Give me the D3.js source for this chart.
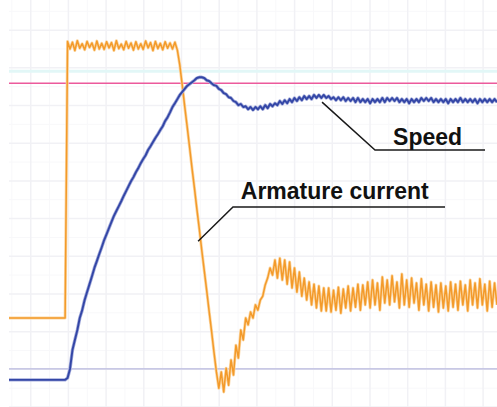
<!DOCTYPE html>
<html>
<head>
<meta charset="utf-8">
<script src="https://cdn.jsdelivr.net/npm/d3@7"></script>
<style>
  html, body { margin: 0; padding: 0; background: #fff; }
  svg { display: block; }
</style>
</head>
<body>
<div id="chart"></div>
<script>
// scope capture: motor start-up, speed and armature current
// time axis in ms (1 sample per ms), vertical axis in scope divisions

const timeStepMs = 1;

const currentSamples = [
  2.36, 2.36, 2.36, 2.36, 2.36, 2.36, 2.36, 2.36, 2.36, 2.36,
  2.36, 2.36, 2.36, 2.36, 2.36, 2.36, 2.36, 2.36, 2.36, 2.36,
  2.36, 2.36, 2.36, 2.36,
  9.70, 9.50, 9.68, 9.46, 9.72, 9.52, 9.64, 9.48, 9.70, 9.54,
  9.66, 9.47, 9.71, 9.50, 9.65, 9.49, 9.69, 9.53, 9.67, 9.46,
  9.72, 9.51, 9.63, 9.48, 9.70, 9.52, 9.66, 9.47, 9.69, 9.50,
  9.64, 9.49, 9.71, 9.53, 9.67, 9.46, 9.70, 9.51, 9.65, 9.48,
  9.69, 9.52, 9.66, 9.50, 9.68, 9.47,
  9.07, 8.54, 7.98, 7.45, 6.90, 6.34, 5.81, 5.25, 4.72, 4.16, 3.63, 3.10, 2.55, 2.02, 1.46, 0.93,
  0.50, 0.93, 0.40, 1.03, 0.58, 1.25, 0.85, 1.64, 1.30, 2.04, 1.78, 2.36, 2.18, 2.52, 2.36, 2.71, 2.57,
  2.84, 2.94, 3.24, 3.42, 3.69, 3.50, 3.90, 3.42, 3.95, 3.37, 3.90, 3.26, 3.85, 3.16,
  3.69, 3.05, 3.58, 2.94, 3.42, 2.84, 3.32, 2.71, 3.26, 2.63, 3.21, 2.55, 3.16, 2.55,
  3.16, 2.52, 3.10, 2.57, 3.18, 2.49, 3.13, 2.63, 3.21, 2.55,
  3.16, 2.65, 3.26, 2.57, 3.24, 2.71, 3.32, 2.63, 3.37, 2.71,
  3.29, 2.57, 3.45, 2.76, 3.37, 2.71, 3.48, 2.79, 3.32, 2.63,
  3.53, 2.71, 3.37, 2.65, 3.42, 2.76, 3.29, 2.57, 3.40, 2.71,
  3.26, 2.55, 3.32, 2.65, 3.24, 2.52, 3.29, 2.63, 3.21, 2.55,
  3.32, 2.65, 3.26, 2.57, 3.34, 2.71, 3.24, 2.55, 3.37, 2.71,
  3.29, 2.63, 3.40, 2.71, 3.26, 2.55, 3.34, 2.65, 3.29, 2.71
];

const speedSamples = [
  0.72, 0.72, 0.72, 0.72, 0.72, 0.72, 0.72, 0.72, 0.72, 0.72,
  0.72, 0.72, 0.72, 0.72, 0.72, 0.72, 0.72, 0.72, 0.72, 0.72,
  0.72, 0.72, 0.72, 0.72,
  0.77, 1.01, 1.51, 1.78, 2.04, 2.36, 2.57,
  2.84, 3.05, 3.26, 3.47, 3.69, 3.87, 4.06, 4.24, 4.43, 4.59,
  4.75, 4.91, 5.07, 5.20, 5.33, 5.46, 5.60, 5.73, 5.86, 5.99,
  6.10, 6.23, 6.34, 6.47, 6.58, 6.68, 6.82, 6.92, 7.03, 7.14,
  7.24, 7.35, 7.45, 7.59, 7.69, 7.82, 7.96, 8.06, 8.17, 8.28,
  8.36, 8.44, 8.52, 8.57, 8.62, 8.67, 8.73, 8.75, 8.75, 8.73,
  8.67, 8.65, 8.59, 8.54, 8.52, 8.44, 8.41, 8.33, 8.30, 8.22,
  8.20, 8.12, 8.09, 8.01, 8.04, 7.96, 7.98, 7.90, 7.96, 7.88,
  7.96, 7.90, 7.98, 7.90, 8.01, 7.93, 8.04, 7.98, 8.06, 8.01,
  8.12, 8.04, 8.14, 8.06, 8.17, 8.09, 8.20, 8.12, 8.22, 8.14,
  8.25, 8.17, 8.25, 8.17, 8.28, 8.20, 8.28, 8.20, 8.28, 8.20,
  8.25, 8.17, 8.22, 8.14, 8.22, 8.14, 8.22, 8.12, 8.20, 8.12,
  8.20, 8.09, 8.20, 8.09, 8.17, 8.09, 8.17, 8.06, 8.17, 8.09,
  8.17, 8.09, 8.20, 8.09, 8.20, 8.12, 8.20, 8.12, 8.20, 8.09,
  8.17, 8.09, 8.17, 8.06, 8.17, 8.09, 8.17, 8.09, 8.20, 8.12,
  8.20, 8.12, 8.20, 8.09, 8.17, 8.09, 8.17, 8.09, 8.17, 8.06,
  8.17, 8.09, 8.17, 8.09, 8.20, 8.09, 8.17, 8.09, 8.17, 8.09,
  8.17, 8.06, 8.17, 8.09, 8.17, 8.09, 8.17, 8.09, 8.17, 8.09
];

// horizontal reference / cursor lines (divisions)
const speedReference = 8.59;
const refBand = 8.91;
const lowerCursor = 1.01;

// annotations: leader from curve point -> elbow -> end of underline
const annotations = [
  { label: 'Speed', anchor: [128.3, 8.09], elbow: [150.0, 6.82], end: [195.1, 6.82], text: [157.4, 6.95] },
  { label: 'Armature current', anchor: [77.5, 4.40], elbow: [91.8, 5.31], end: [178.7, 5.31], text: [95.0, 5.52] }
];

const width = 497, height = 407;
const x = d3.scaleLinear().domain([0, 200]).range([9, 497]);
const y = d3.scaleLinear().domain([0, 10.8]).range([407, 0]);

const svg = d3.select('#chart').append('svg')
  .attr('width', width)
  .attr('height', height)
  .style('background', '#fff');

// faint scope grid
const grid = svg.append('g').attr('class', 'grid');
const gridX = d3.range(8.9, 200, 15.45);
const gridXMinor = d3.range(8.9 - 7.725, 200, 15.45).filter(t => t > 0);
const gridY = d3.range(0, 11, 1);
const gridYMinor = d3.range(0.5, 11, 1);

grid.selectAll('.vminor').data(gridXMinor).enter().append('line')
  .attr('x1', d => x(d)).attr('x2', d => x(d))
  .attr('y1', 0).attr('y2', height)
  .attr('stroke', '#f8f8fa').attr('stroke-width', 1);
grid.selectAll('.hminor').data(gridYMinor).enter().append('line')
  .attr('x1', x(0)).attr('x2', width)
  .attr('y1', d => y(d)).attr('y2', d => y(d))
  .attr('stroke', '#f8f8fa').attr('stroke-width', 1);
grid.selectAll('.vmajor').data(gridX).enter().append('line')
  .attr('x1', d => x(d)).attr('x2', d => x(d))
  .attr('y1', 0).attr('y2', height)
  .attr('stroke', '#f1f1f5').attr('stroke-width', 1.5);
grid.selectAll('.hmajor').data(gridY).enter().append('line')
  .attr('x1', x(0)).attr('x2', width)
  .attr('y1', d => y(d)).attr('y2', d => y(d))
  .attr('stroke', '#f1f1f5').attr('stroke-width', 1.5);

// reference lines
svg.append('line')
  .attr('x1', x(0)).attr('x2', width)
  .attr('y1', y(refBand)).attr('y2', y(refBand))
  .attr('stroke', '#e2f7f7').attr('stroke-width', 3);
svg.append('line')
  .attr('x1', x(0)).attr('x2', width)
  .attr('y1', y(lowerCursor)).attr('y2', y(lowerCursor))
  .attr('stroke', '#b8b8de').attr('stroke-width', 1.2);
svg.append('line')
  .attr('x1', x(0)).attr('x2', width)
  .attr('y1', y(speedReference)).attr('y2', y(speedReference))
  .attr('stroke', '#ec5a9c').attr('stroke-width', 1.6);

const line = d3.line()
  .x((d, i) => x(i * timeStepMs))
  .y(d => y(d));

// armature current (orange)
svg.append('path')
  .datum(currentSamples)
  .attr('d', line)
  .attr('fill', 'none')
  .attr('stroke', '#fbd7a4')
  .attr('stroke-width', 3)
  .attr('stroke-linejoin', 'round');
svg.append('path')
  .datum(currentSamples)
  .attr('d', line)
  .attr('fill', 'none')
  .attr('stroke', '#f39a2a')
  .attr('stroke-width', 1.5)
  .attr('stroke-linejoin', 'round');

// speed (blue)
svg.append('path')
  .datum(speedSamples)
  .attr('d', line)
  .attr('fill', 'none')
  .attr('stroke', '#a4acdb')
  .attr('stroke-width', 3.4)
  .attr('stroke-linejoin', 'round');
svg.append('path')
  .datum(speedSamples)
  .attr('d', line)
  .attr('fill', 'none')
  .attr('stroke', '#3346a6')
  .attr('stroke-width', 1.9)
  .attr('stroke-linejoin', 'round');

// annotation leaders and labels
const ann = svg.append('g').attr('class', 'annotations');
annotations.forEach(a => {
  ann.append('polyline')
    .attr('points', [a.anchor, a.elbow, a.end].map(p => `${x(p[0])},${y(p[1])}`).join(' '))
    .attr('fill', 'none')
    .attr('stroke', '#1a1a1a')
    .attr('stroke-width', 1.5);
  ann.append('text')
    .attr('x', x(a.text[0]))
    .attr('y', y(a.text[1]))
    .style('font-family', '"Liberation Sans", Arial, sans-serif')
    .style('font-weight', '700')
    .style('font-size', '23px')
    .style('fill', '#111')
    .text(a.label);
});
</script>
</body>
</html>
